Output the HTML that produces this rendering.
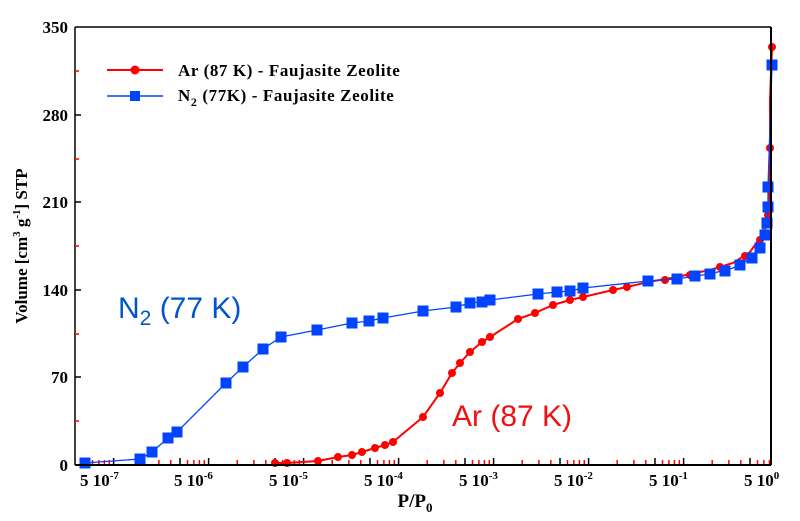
<!DOCTYPE html>
<html><head><style>body{margin:0;background:#fff}svg{display:block}</style></head><body>
<svg width="800" height="521" xmlns="http://www.w3.org/2000/svg" font-family="Liberation Serif, serif">
<rect x="0" y="0" width="800" height="521" fill="#fff"/>
<line x1="75" y1="465" x2="75" y2="27" stroke="#000" stroke-width="1.5"/>
<g stroke="#000" stroke-width="1.5">
<line x1="75" y1="377" x2="81" y2="377"/><line x1="75" y1="290" x2="81" y2="290"/><line x1="75" y1="202" x2="81" y2="202"/><line x1="75" y1="115" x2="81" y2="115"/>
</g>
<g stroke="red" stroke-width="1.5">
<line x1="75" y1="421" x2="79" y2="421"/><line x1="75" y1="334" x2="79" y2="334"/><line x1="75" y1="246" x2="79" y2="246"/><line x1="75" y1="159" x2="79" y2="159"/><line x1="75" y1="71" x2="79" y2="71"/>
</g>
<g font-weight="bold" font-size="17" text-anchor="end">
<text x="68" y="471">0</text><text x="68" y="383">70</text><text x="68" y="296">140</text><text x="68" y="208">210</text><text x="68" y="121">280</text><text x="68" y="33">350</text>
</g>
<text transform="translate(27,246) rotate(-90)" font-weight="bold" font-size="17" text-anchor="middle">Volume [cm<tspan font-size="11" dy="-7">3</tspan><tspan dy="7"> g</tspan><tspan font-size="11" dy="-7">-1</tspan><tspan dy="7">] STP</tspan></text>
<g stroke="#000" stroke-width="1.5">
<line x1="85" y1="465" x2="85" y2="458"/><line x1="180" y1="465" x2="180" y2="458"/><line x1="275" y1="465" x2="275" y2="458"/><line x1="370" y1="465" x2="370" y2="458"/><line x1="465" y1="465" x2="465" y2="458"/><line x1="560" y1="465" x2="560" y2="458"/><line x1="655" y1="465" x2="655" y2="458"/><line x1="750" y1="465" x2="750" y2="458"/>
<line x1="113.6" y1="465" x2="113.6" y2="458"/><line x1="208.6" y1="465" x2="208.6" y2="458"/><line x1="303.6" y1="465" x2="303.6" y2="458"/><line x1="398.6" y1="465" x2="398.6" y2="458"/><line x1="493.6" y1="465" x2="493.6" y2="458"/><line x1="588.6" y1="465" x2="588.6" y2="458"/><line x1="683.6" y1="465" x2="683.6" y2="458"/>
</g>
<path stroke="red" stroke-width="1.5" fill="none" d="M92.5 465v-5M98.9 465v-5M104.4 465v-5M109.3 465v-5M142.2 465v-5M158.9 465v-5M170.8 465v-5
M187.5 465v-5M193.9 465v-5M199.4 465v-5M204.3 465v-5M237.2 465v-5M253.9 465v-5M265.8 465v-5
M282.5 465v-5M288.9 465v-5M294.4 465v-5M299.3 465v-5M332.2 465v-5M348.9 465v-5M360.8 465v-5
M377.5 465v-5M383.9 465v-5M389.4 465v-5M394.3 465v-5M427.2 465v-5M443.9 465v-5M455.8 465v-5
M472.5 465v-5M478.9 465v-5M484.4 465v-5M489.3 465v-5M522.2 465v-5M538.9 465v-5M550.8 465v-5
M567.5 465v-5M573.9 465v-5M579.4 465v-5M584.3 465v-5M617.2 465v-5M633.9 465v-5M645.8 465v-5
M662.5 465v-5M668.9 465v-5M674.4 465v-5M679.3 465v-5M712.2 465v-5M728.9 465v-5M740.8 465v-5
M757.5 465v-5M763.9 465v-5M769.4 465v-5"/>
<g font-weight="bold" font-size="17">
<text x="80" y="486">5 10<tspan font-size="11" dy="-7">-7</tspan></text>
<text x="174" y="486">5 10<tspan font-size="11" dy="-7">-6</tspan></text>
<text x="269" y="486">5 10<tspan font-size="11" dy="-7">-5</tspan></text>
<text x="364" y="486">5 10<tspan font-size="11" dy="-7">-4</tspan></text>
<text x="459" y="486">5 10<tspan font-size="11" dy="-7">-3</tspan></text>
<text x="554" y="486">5 10<tspan font-size="11" dy="-7">-2</tspan></text>
<text x="649" y="486">5 10<tspan font-size="11" dy="-7">-1</tspan></text>
<text x="744" y="486">5 10<tspan font-size="11" dy="-7">0</tspan></text>
</g>
<text x="415" y="507" font-weight="bold" font-size="19" text-anchor="middle">P/P<tspan font-size="13" dy="5">0</tspan></text>
<line x1="107" y1="70" x2="163" y2="70" stroke="red" stroke-width="2"/><circle cx="135" cy="70" r="4.5" fill="red"/>
<line x1="107" y1="96" x2="163" y2="96" stroke="#0044ff" stroke-width="1.5"/><rect x="130" y="91" width="10" height="10" fill="#0044ff"/>
<text x="178" y="76" font-weight="bold" font-size="17" letter-spacing="0.6">Ar (87 K) - Faujasite Zeolite</text>
<text x="178" y="101" font-weight="bold" font-size="17" letter-spacing="0.6">N<tspan font-size="12" dy="5">2</tspan><tspan dy="-5"> (77K)  - Faujasite Zeolite</tspan></text>
<text x="118" y="318" font-family="Liberation Sans, sans-serif" font-size="30" fill="#0055cc">N<tspan font-size="21" dy="7">2</tspan><tspan dy="-7"> (77 K)</tspan></text>
<text x="452" y="426" font-family="Liberation Sans, sans-serif" font-size="30" fill="#ee1111">Ar (87 K)</text>
<polyline fill="none" stroke="red" stroke-width="2" points="275,463 287,463 318,461 338,457 352,455 362,452 375,448 385,445 393,442 423,417 440,393 452,373 460,363 470,352 482,342 490,337 518,319 535,313 553,305 570,300 583,297 613,290 627,287 648,282 677,277 695,273 710,270 733,263 750,252 760,238 766,222 769,200 770,170 770,100 772,47"/>
<g fill="red">
<circle cx="275" cy="463" r="4"/><circle cx="287" cy="463" r="4"/><circle cx="318" cy="461" r="4"/><circle cx="338" cy="457" r="4"/><circle cx="352" cy="455" r="4"/><circle cx="362" cy="452" r="4"/><circle cx="375" cy="448" r="4"/><circle cx="385" cy="445" r="4"/><circle cx="393" cy="442" r="4"/><circle cx="423" cy="417" r="4"/><circle cx="440" cy="393" r="4"/><circle cx="452" cy="373" r="4"/><circle cx="460" cy="363" r="4"/><circle cx="470" cy="352" r="4"/><circle cx="482" cy="342" r="4"/><circle cx="490" cy="337" r="4"/><circle cx="518" cy="319" r="4"/><circle cx="535" cy="313" r="4"/><circle cx="553" cy="305" r="4"/><circle cx="570" cy="300" r="4"/><circle cx="583" cy="297" r="4"/><circle cx="613" cy="290" r="4"/><circle cx="627" cy="287" r="4"/><circle cx="648" cy="282" r="4"/><circle cx="665" cy="280" r="4"/><circle cx="690" cy="275" r="4"/><circle cx="720" cy="267" r="4"/><circle cx="745" cy="256" r="4"/><circle cx="760" cy="240" r="4"/><circle cx="768" cy="215" r="4"/><circle cx="770" cy="148" r="4"/><circle cx="772" cy="47" r="4"/>
</g>
<polyline fill="none" stroke="#0044ff" stroke-width="1.3" points="85,463 140,459 152,452 168,438 177,432 226,383 243,367 263,349 281,337 317,330 352,323 369,321 383,318 423,311 456,307 470,303 482,302 490,300 538,294 557,292 570,291 583,288 648,281 677,279 695,276 710,274 733,268 750,259 761,245 766,228 768,207 768,187 772,65"/>
<g fill="#0044ff">
<rect x="79.5" y="457.5" width="11" height="11"/><rect x="134.5" y="453.5" width="11" height="11"/><rect x="146.5" y="446.5" width="11" height="11"/><rect x="162.5" y="432.5" width="11" height="11"/><rect x="171.5" y="426.5" width="11" height="11"/><rect x="220.5" y="377.5" width="11" height="11"/><rect x="237.5" y="361.5" width="11" height="11"/><rect x="257.5" y="343.5" width="11" height="11"/><rect x="275.5" y="331.5" width="11" height="11"/><rect x="311.5" y="324.5" width="11" height="11"/><rect x="346.5" y="317.5" width="11" height="11"/><rect x="363.5" y="315.5" width="11" height="11"/><rect x="377.5" y="312.5" width="11" height="11"/><rect x="417.5" y="305.5" width="11" height="11"/><rect x="450.5" y="301.5" width="11" height="11"/><rect x="464.5" y="297.5" width="11" height="11"/><rect x="476.5" y="296.5" width="11" height="11"/><rect x="484.5" y="294.5" width="11" height="11"/><rect x="532.5" y="288.5" width="11" height="11"/><rect x="551.5" y="286.5" width="11" height="11"/><rect x="564.5" y="285.5" width="11" height="11"/><rect x="577.5" y="282.5" width="11" height="11"/><rect x="642.5" y="275.5" width="11" height="11"/><rect x="671.5" y="273.5" width="11" height="11"/><rect x="689.5" y="270.5" width="11" height="11"/><rect x="704.5" y="268.5" width="11" height="11"/><rect x="719.5" y="265.5" width="11" height="11"/><rect x="734.5" y="259.5" width="11" height="11"/><rect x="746.5" y="252.5" width="11" height="11"/><rect x="754.5" y="242.5" width="11" height="11"/><rect x="759.5" y="229.5" width="11" height="11"/><rect x="761.5" y="217.5" width="11" height="11"/><rect x="762.5" y="201.5" width="11" height="11"/><rect x="762.5" y="181.5" width="11" height="11"/><rect x="766.5" y="59.5" width="11" height="11"/>
</g>
<line x1="75" y1="27" x2="771" y2="27" stroke="#000" stroke-width="1.5"/>
<line x1="771" y1="27" x2="771" y2="465" stroke="#000" stroke-width="2"/>
<line x1="75" y1="465" x2="771" y2="465" stroke="#000" stroke-width="2"/>
</svg>
</body></html>
